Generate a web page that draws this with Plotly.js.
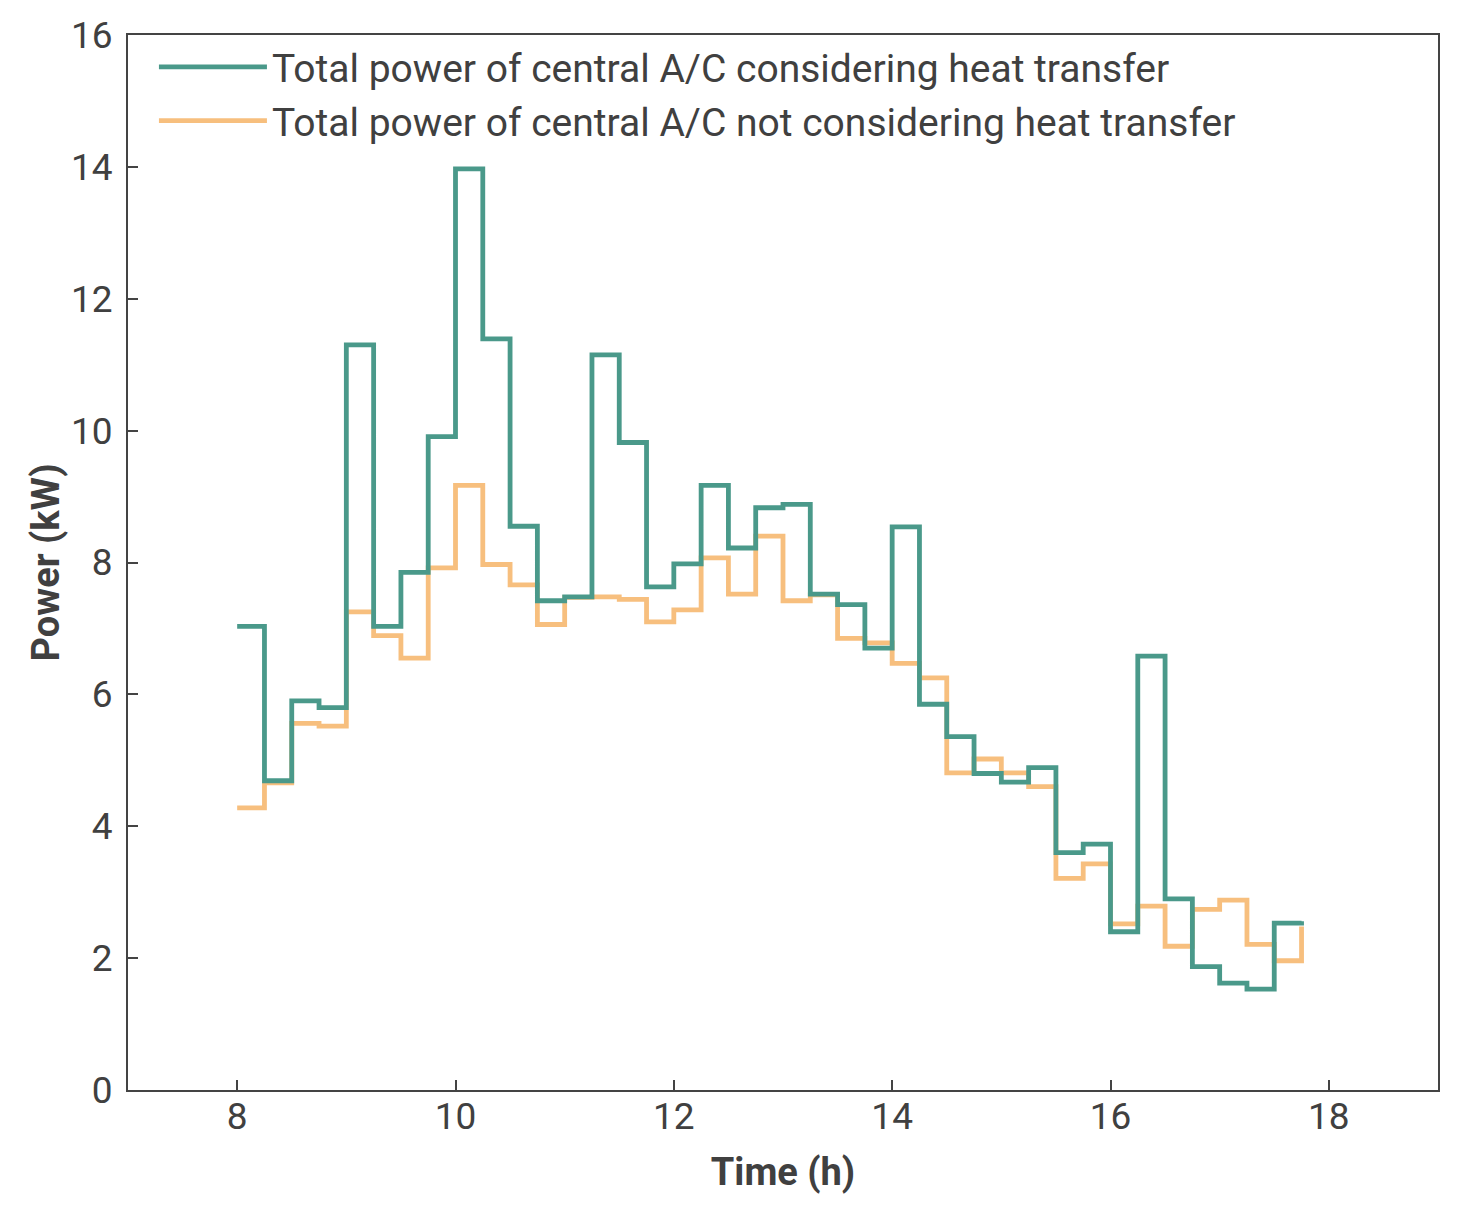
<!DOCTYPE html>
<html>
<head>
<meta charset="utf-8">
<script src="https://cdn.plot.ly/plotly-3.0.1.min.js"></script>
<style>
  body { margin: 0; background: #fff; }
  #plot { width: 1470px; height: 1207px; }
</style>
</head>
<body>
<div id="plot"></div>
<script>
// quarter-hour time steps, 8:00 to 17:45
const timeH = [8, 8.25, 8.5, 8.75, 9, 9.25, 9.5, 9.75, 10, 10.25, 10.5, 10.75,
    11, 11.25, 11.5, 11.75, 12, 12.25, 12.5, 12.75, 13, 13.25, 13.5, 13.75,
    14, 14.25, 14.5, 14.75, 15, 15.25, 15.5, 15.75, 16, 16.25, 16.5, 16.75,
    17, 17.25, 17.5, 17.75];

const powerWithTransfer = [7.03, 4.69, 5.90, 5.80, 11.30, 7.03, 7.85, 9.91, 13.97, 11.39, 8.55, 7.42,
    7.48, 11.15, 9.82, 7.63, 7.98, 9.17, 8.22, 8.83, 8.88, 7.52, 7.36, 6.70,
    8.54, 5.85, 5.36, 4.80, 4.67, 4.89, 3.60, 3.73, 2.40, 6.58, 2.90, 1.87,
    1.62, 1.53, 2.53, 2.56];

const powerWithoutTransfer = [4.28, 4.66, 5.56, 5.52, 7.25, 6.89, 6.55, 7.92, 9.17, 7.97, 7.66, 7.06,
    7.47, 7.48, 7.44, 7.10, 7.28, 8.07, 7.52, 8.40, 7.42, 7.51, 6.85, 6.78,
    6.47, 6.25, 4.81, 5.02, 4.81, 4.60, 3.21, 3.43, 2.52, 2.79, 2.18, 2.74,
    2.88, 2.21, 1.96, 2.48];

const seriesNames = [
    "Total power of central A/C considering heat transfer",
    "Total power of central A/C not considering heat transfer"
];

const textColor = "#404040";

// orange first so the green line sits on top where they overlap
const orange = {
    type: "scatter",
    mode: "lines",
    x: timeH,
    y: powerWithoutTransfer,
    name: seriesNames[1],
    legendgroup: "b",
    legendrank: 2,
    line: {color: "#f7bf7e", width: 4.8, shape: "hv"}
};

const green = {
    type: "scatter",
    mode: "lines",
    x: timeH,
    y: powerWithTransfer,
    name: seriesNames[0],
    legendgroup: "a",
    legendrank: 1,
    line: {color: "#4a998a", width: 4.8, shape: "hv"}
};

Plotly.newPlot("plot", [orange, green], {
    width: 1470,
    height: 1207,
    margin: {l: 128, r: 32, t: 35, b: 117},
    paper_bgcolor: "#fff",
    plot_bgcolor: "#fff",
    font: {family: "Roboto, sans-serif", color: textColor, size: 36},
    showlegend: true,
    legend: {
        x: 0.0198, y: 1.0,
        xanchor: "left", yanchor: "top",
        bgcolor: "rgba(0,0,0,0)",
        itemwidth: 108,
        font: {size: 39, color: textColor},
        tracegroupgap: 0
    },
    xaxis: {
        range: [7, 19],
        tickvals: [8, 10, 12, 14, 16, 18],
        ticks: "inside",
        ticklen: 10,
        tickwidth: 2,
        tickcolor: "#444",
        showline: true,
        linecolor: "#444",
        linewidth: 2,
        mirror: true,
        showgrid: false,
        zeroline: false,
        ticklabelstandoff: -7,
        tickfont: {size: 37, color: textColor},
        title: {text: "<b>Time (h)</b>", font: {size: 38, color: textColor}, standoff: 21}
    },
    yaxis: {
        range: [0, 16],
        tickvals: [0, 2, 4, 6, 8, 10, 12, 14, 16],
        ticks: "inside",
        ticklen: 10,
        tickwidth: 2,
        tickcolor: "#444",
        showline: true,
        linecolor: "#444",
        linewidth: 2,
        mirror: true,
        showgrid: false,
        zeroline: false,
        ticklabelstandoff: 6,
        tickfont: {size: 37, color: textColor},
        title: {text: "<b>Power (kW)</b>", font: {size: 38, color: textColor}, standoff: 0}
    }
}, {displayModeBar: false});
</script>
</body>
</html>
